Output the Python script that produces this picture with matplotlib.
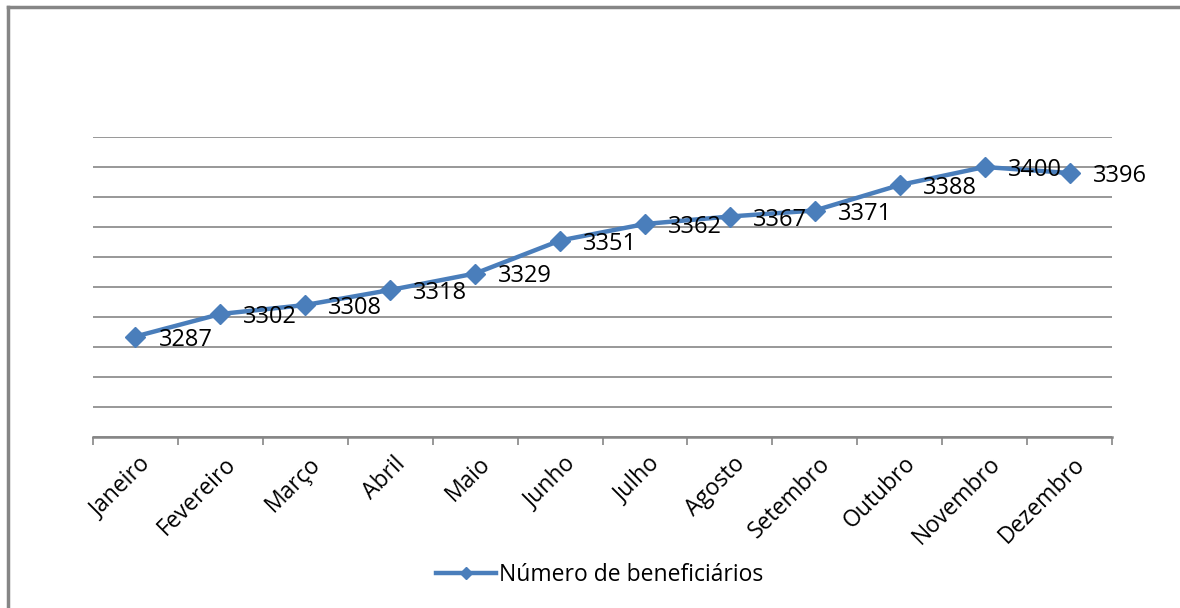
import numpy as np
import matplotlib
matplotlib.use("Agg")
import matplotlib.pyplot as plt
import matplotlib.transforms as mtransforms
from matplotlib.lines import Line2D

# Data
meses = ["Janeiro", "Fevereiro", "Março", "Abril", "Maio", "Junho",
         "Julho", "Agosto", "Setembro", "Outubro", "Novembro", "Dezembro"]
beneficiarios = [3287, 3302, 3308, 3318, 3329, 3351,
                 3362, 3367, 3371, 3388, 3400, 3396]
serie_nome = "Número de beneficiários"

plt.rcParams['font.family'] = ['Open Sans', 'DejaVu Sans']

azul = '#4A7EBB'
cinza = '#868686'

fig = plt.figure(figsize=(11.8, 6.08), dpi=100)
ax = fig.add_axes([93/1180, 1 - 437/608, (1112 - 93)/1180, 300/608])

x = np.arange(len(meses))
ax.plot(x, beneficiarios, color=azul, lw=3.2, marker='D', markersize=10.5,
        markerfacecolor=azul, markeredgecolor=azul, label=serie_nome,
        zorder=3)

# data labels to the right of each point
for xi, v in zip(x, beneficiarios):
    ax.annotate(str(v), (xi, v), xytext=(23, -3), textcoords='offset pixels',
                ha='left', va='center', fontsize=17, color='black', zorder=4)

ax.set_xlim(-0.5, len(meses) - 0.5)
ax.set_ylim(3220, 3420)
ax.set_yticks(np.arange(3220, 3421, 20))
ax.yaxis.grid(True, color=cinza, lw=1.2)
ax.tick_params(axis='y', left=False, labelleft=False)
for s in ['top', 'right', 'left']:
    ax.spines[s].set_visible(False)
ax.spines['bottom'].set_color(cinza)
ax.spines['bottom'].set_linewidth(1.8)

# category ticks between months
ax.set_xticks(x)
ax.set_xticks(np.arange(-0.5, len(meses), 1), minor=True)
ax.tick_params(axis='x', which='major', length=0, pad=17)
ax.tick_params(axis='x', which='minor', length=6, width=1.2, color=cinza,
               direction='out')
ax.set_xticklabels(meses, rotation=45, ha='right', va='center',
                   rotation_mode='anchor', fontsize=16.5)
shift = mtransforms.ScaledTranslation(12/100, 0, fig.dpi_scale_trans)
for lab in ax.get_xticklabels():
    lab.set_transform(lab.get_transform() + shift)

ax.legend(loc='center', bbox_to_anchor=(600/1180, 1 - 575/608),
          bbox_transform=fig.transFigure, frameon=False, fontsize=16.5,
          handlelength=2.6, handletextpad=0.15, markerscale=0.6)

# outer chart frame (top and left edges)
fig.add_artist(Line2D([8/1180, 1], [1 - 7/608, 1 - 7/608], color=cinza,
                      lw=2.5, transform=fig.transFigure))
fig.add_artist(Line2D([8/1180, 8/1180], [0, 1 - 7/608], color=cinza,
                      lw=2.5, transform=fig.transFigure))

fig.savefig("out.png", dpi=100, facecolor='white')
